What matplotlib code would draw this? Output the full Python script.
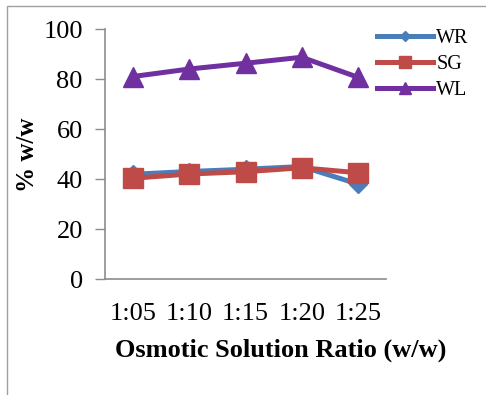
import matplotlib
matplotlib.use("Agg")
import matplotlib.pyplot as plt
from matplotlib.patches import Rectangle

categories = ["1:05", "1:10", "1:15", "1:20", "1:25"]
wr = [41.9, 43.0, 43.9, 45.0, 38.0]
sg = [40.3, 42.0, 42.9, 44.5, 42.5]
wl = [81.0, 84.0, 86.3, 88.7, 80.7]
yticks = [0, 20, 40, 60, 80, 100]

plt.rcParams['font.family'] = ['Liberation Serif', 'DejaVu Serif']

fig = plt.figure(figsize=(4.86, 3.95), dpi=100)
fig.patches.append(Rectangle((7/486, -0.1), 1.0, (395-6)/395 + 0.1, transform=fig.transFigure,
                             fill=False, edgecolor='#a0a0a0', linewidth=1.0))
ax = fig.add_axes([105/486, 1-279/395, 281/486, 250/395])

x = list(range(len(categories)))
ax.plot(x, wr, color='#4A7EBB', lw=3.6, marker='D', ms=9, label='WR', zorder=3)
ax.plot(x, sg, color='#BE4B48', lw=3.6, marker='s', ms=14, label='SG', zorder=4)
ax.plot(x, wl, color='#7030A0', lw=3.6, marker='^', ms=14, label='WL', zorder=3)

ax.set_xlim(-0.5, 4.5)
ax.set_ylim(0, 100)
ax.set_yticks(yticks)
ax.set_xticks(x)
ax.set_xticklabels(categories)
ax.tick_params(axis='y', length=7, width=1, color='#8c8c8c', labelsize=19, pad=9)
ax.tick_params(axis='x', length=0, labelsize=19, pad=17)
for s in ['top', 'right']:
    ax.spines[s].set_visible(False)
for s in ['left', 'bottom']:
    ax.spines[s].set_color('#8c8c8c')
    ax.spines[s].set_linewidth(1.2)

ax.set_xlabel('Osmotic Solution Ratio (w/w)', fontsize=19, fontweight='bold')
ax.xaxis.set_label_coords((281-105)/281, -(350-279)/250, transform=ax.transAxes)
ax.xaxis.label.set_verticalalignment('center')
ax.set_ylabel('% w/w', fontsize=18, fontweight='bold')
ax.yaxis.set_label_coords(-(105-27)/281, (279-155)/250, transform=ax.transAxes)
ax.yaxis.label.set_verticalalignment('center')

leg = fig.legend(loc='upper left', bbox_to_anchor=(377/486, 1-29/395), frameon=False,
                 fontsize=14.5, handlelength=2.8, handletextpad=0.15, labelspacing=0.35,
                 markerscale=0.6, borderaxespad=0, borderpad=0)
fig.savefig('out.png', dpi=100)
